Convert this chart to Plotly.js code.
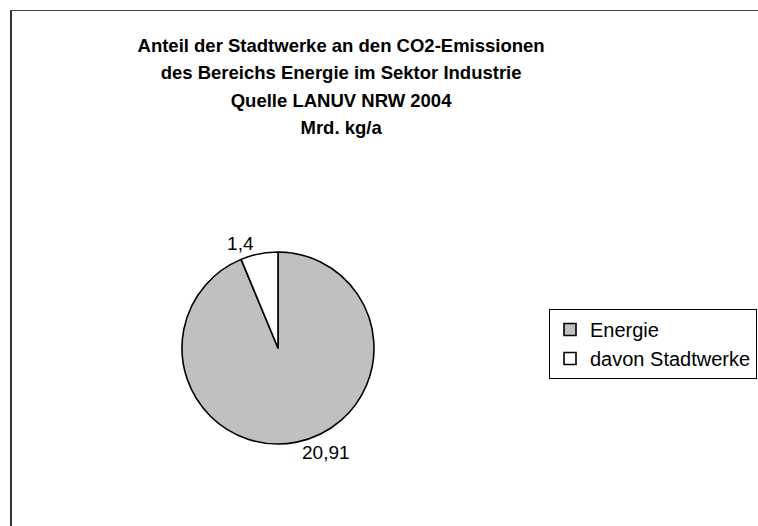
<!DOCTYPE html>
<html>
<head>
<meta charset="utf-8">
<script src="https://cdn.plot.ly/plotly-3.0.1.min.js"></script>
<style>
  html, body { margin: 0; padding: 0; background: #fff; overflow: hidden; }
  #chart { position: absolute; left: 0; top: 0; width: 758px; height: 526px; }
  #frame { position: absolute; left: 10px; top: 10px; width: 800px; height: 600px;
           border-left: 2px solid #333; border-top: 1px solid #444; pointer-events: none; }
</style>
</head>
<body>
<div id="chart"></div>
<div id="frame"></div>
<script>
const titleLines = [
  "Anteil der Stadtwerke an den CO2-Emissionen",
  "des Bereichs Energie im Sektor Industrie",
  "Quelle LANUV NRW 2004",
  "Mrd. kg/a"
];
const categories = ["Energie", "davon Stadtwerke"];
const values = [20.91, 1.4];
const sliceColors = ["#C0C0C0", "#FFFFFF"];

const titleText = titleLines.map(l => '<span style="font-size:18.5px">' + l + '</span>').join('<br>');

const data = [{
  type: 'pie',
  labels: categories,
  values: values,
  sort: false,
  direction: 'clockwise',
  rotation: 0,
  textinfo: 'value',
  texttemplate: '%{value}',
  textposition: 'outside',
  textfont: { family: 'Liberation Sans, Arial, sans-serif', size: 19, color: '#000' },
  marker: { colors: sliceColors, line: { color: '#000', width: 1.6 } },
  domain: { x: [0.2401, 0.4934], y: [0.1559, 0.5209] },
  hoverinfo: 'label+value'
}];

const layout = {
  width: 758, height: 526,
  margin: { l: 0, r: 0, t: 0, b: 0 },
  paper_bgcolor: '#fff',
  separators: ',.',
  title: {
    text: titleText,
    font: { family: 'Liberation Sans, Arial, sans-serif', size: 21, color: '#000', weight: 'bold' },
    x: 0.45, xanchor: 'center',
    y: 1 - 52 / 526, yanchor: 'top', yref: 'container'
  },
  showlegend: true,
  legend: {
    x: 549 / 758, xanchor: 'left',
    y: 1 - 309 / 526, yanchor: 'top',
    bordercolor: '#000', borderwidth: 1,
    bgcolor: '#fff',
    font: { family: 'Liberation Sans, Arial, sans-serif', size: 20, color: '#000' },
    itemwidth: 30
  }
};

Plotly.newPlot('chart', data, layout, { staticPlot: true });
</script>
</body>
</html>
